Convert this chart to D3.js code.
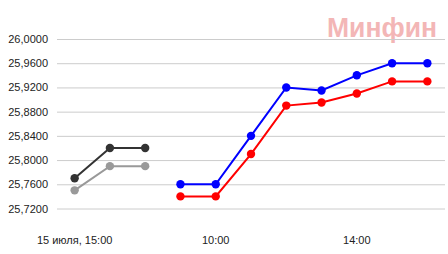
<!DOCTYPE html>
<html>
<head>
<meta charset="utf-8">
<script src="https://cdn.jsdelivr.net/npm/d3@7"></script>
<style>
  html, body { margin: 0; padding: 0; background: #fff; }
  svg { display: block; }
  text { font-family: "Liberation Sans", Arial, sans-serif; }
</style>
</head>
<body>
<svg id="chart" width="448" height="254"></svg>
<script>
// ---- data ----
const categories = [
  "15.07 15:00", "15.07 16:00", "15.07 17:00",
  "16.07 09:00", "16.07 10:00", "16.07 11:00", "16.07 12:00",
  "16.07 13:00", "16.07 14:00", "16.07 15:00", "16.07 16:00"
];
const darkSeries  = [25.77, 25.82, 25.82, null, null, null, null, null, null, null, null];
const greySeries  = [25.75, 25.79, 25.79, null, null, null, null, null, null, null, null];
const blueSeries  = [null, null, null, 25.76, 25.76, 25.84, 25.92, 25.915, 25.94, 25.96, 25.96];
const redSeries   = [null, null, null, 25.74, 25.74, 25.81, 25.89, 25.895, 25.91, 25.93, 25.93];
const yTicks = [25.72, 25.76, 25.80, 25.84, 25.88, 25.92, 25.96, 26.00];
const xTickCategories = ["15.07 15:00", "16.07 10:00", "16.07 14:00"];
const xTickLabels = ["15 июля, 15:00", "10:00", "14:00"];
const watermark = "Минфин";

// ---- layout ----
const svg = d3.select("#chart");
const mLeft = 57, mRight = 445, mTop = 39, mBottom = 208.5;

const x = d3.scaleBand().domain(categories).range([mLeft, mRight]).padding(0);
const cx = c => x(c) + x.bandwidth() / 2;
const y = d3.scaleLinear().domain([25.72, 26.0]).range([mBottom, mTop]);

// watermark
svg.append("text")
  .attr("x", 327).attr("y", 36.5)
  .attr("font-size", 28).attr("font-weight", "bold")
  .attr("textLength", 110).attr("lengthAdjust", "spacingAndGlyphs")
  .attr("fill", "rgb(243,182,182)")
  .text(watermark);

// gridlines + y labels
const fmt = v => d3.format(".4f")(v).replace(".", ",");
const yAxis = d3.axisLeft(y).tickValues(yTicks).tickSize(-(mRight - mLeft)).tickFormat(fmt).tickPadding(9);
const gy = svg.append("g").attr("transform", `translate(${mLeft},0)`).call(yAxis);
gy.select(".domain").remove();
gy.selectAll(".tick line").attr("stroke", "#cccccc").attr("stroke-width", 1);
gy.selectAll(".tick text").attr("font-size", 11).attr("fill", "#222").attr("font-family", '"Liberation Sans", Arial, sans-serif');

// x labels
const labelMap = new Map(xTickCategories.map((c, i) => [c, xTickLabels[i]]));
const xAxis = d3.axisBottom(x).tickValues(xTickCategories).tickSize(0).tickFormat(c => labelMap.get(c)).tickPadding(0);
const gx = svg.append("g").attr("transform", `translate(0,236)`).call(xAxis);
gx.select(".domain").remove();
gx.selectAll(".tick text").attr("font-size", 11).attr("fill", "#222").attr("dy", "0.71em").attr("y", 0).attr("font-family", '"Liberation Sans", Arial, sans-serif');

// series
const series = [
  { values: greySeries, color: "#999999" },
  { values: darkSeries, color: "#333333" },
  { values: redSeries,  color: "#ff0000" },
  { values: blueSeries, color: "#0000ff" }
];
const line = d3.line()
  .defined(d => d.v != null)
  .x(d => cx(d.c)).y(d => y(d.v));

series.forEach(s => {
  const pts = categories.map((c, i) => ({ c, v: s.values[i] }));
  svg.append("path").datum(pts)
    .attr("fill", "none").attr("stroke", s.color).attr("stroke-width", 2)
    .attr("d", line);
  svg.append("g").selectAll("circle").data(pts.filter(d => d.v != null))
    .join("circle")
    .attr("cx", d => cx(d.c)).attr("cy", d => y(d.v)).attr("r", 4.2)
    .attr("fill", s.color);
});
</script>
</body>
</html>
